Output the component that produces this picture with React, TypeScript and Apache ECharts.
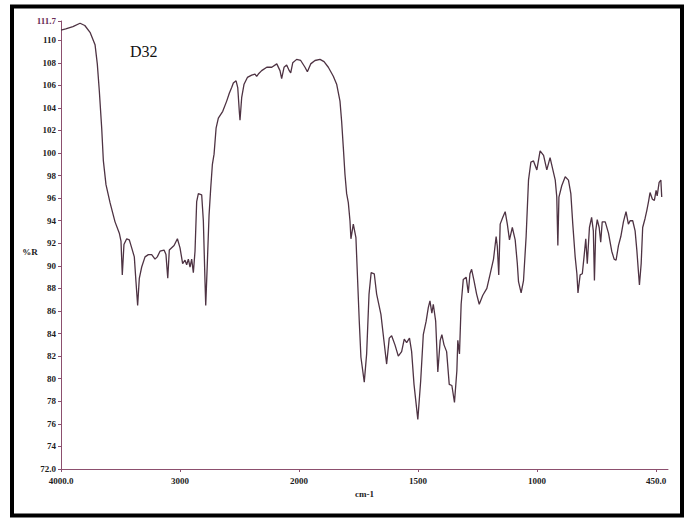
import React, { useEffect, useRef } from "react";
import * as echarts from "echarts";

// Wavenumbers (cm-1) and %R
const wavenumbers = [
  4000, 3960, 3900, 3840, 3800, 3756, 3714, 3695, 3678, 3658, 3644, 3622, 3588, 3546, 3510, 3496, 3485, 3471,
  3448, 3426, 3406, 3384, 3370, 3356, 3342, 3322, 3294, 3266, 3238, 3210, 3191, 3168, 3134, 3118, 3103, 3090,
  3070, 3050, 3022, 3000, 2978, 2958, 2944, 2930, 2916, 2902, 2888, 2874, 2860, 2846, 2818, 2804, 2790, 2784,
  2770, 2756, 2742, 2728, 2714, 2697, 2678, 2641, 2608, 2586, 2566, 2552, 2529, 2515, 2502, 2496, 2482, 2462,
  2434, 2398, 2370, 2356, 2342, 2314, 2271, 2229, 2187, 2160, 2146, 2126, 2104, 2082, 2070, 2053, 2020, 1993,
  1975, 1965, 1951, 1933, 1912, 1895, 1877, 1856, 1842, 1828, 1821, 1814, 1807, 1800, 1793, 1786, 1782, 1772,
  1761, 1755, 1747, 1740, 1726, 1716, 1706, 1697, 1684, 1674, 1656, 1643, 1632, 1621, 1611, 1597, 1583, 1569,
  1558, 1548, 1536, 1527, 1517, 1501, 1489, 1478, 1466, 1457, 1450, 1442, 1436, 1426, 1417, 1407, 1400, 1391,
  1380, 1369, 1358, 1347, 1337, 1333, 1326, 1319, 1310, 1298, 1289, 1282, 1275, 1265, 1254, 1243, 1228, 1211,
  1197, 1183, 1172, 1167, 1161, 1155, 1144, 1134, 1125, 1116, 1104, 1092, 1083, 1078, 1067, 1057, 1046, 1036,
  1026, 1015, 1001, 986, 970, 955, 940, 927, 916, 909, 904, 899, 886, 870, 855, 844, 835, 824, 816, 811, 801,
  791, 783, 775, 768, 758, 748, 740, 735, 729, 722, 713, 706, 699, 685, 670, 655, 644, 635, 624, 613, 601, 589,
  578, 570, 558, 547, 539, 531, 527, 519, 512, 501, 493, 485, 478, 467, 458, 450, 445, 436, 428, 424,
];

const percentR = [
  110.9, 111.0, 111.2, 111.5, 111.3, 110.7, 109.6, 107.9, 105.5, 102.2, 99.3, 97.2, 95.6, 93.9, 92.9, 92.2, 89.2, 91.9,
  92.4, 92.3, 91.6, 90.8, 88.6, 86.5, 88.9, 89.9, 90.8, 91.0, 91.0, 90.6, 90.8, 91.3, 91.4, 91.0, 88.9, 91.4,
  91.6, 91.8, 92.4, 91.6, 90.2, 90.5, 90.1, 90.6, 89.9, 90.6, 89.4, 91.3, 95.7, 96.4, 96.3, 94.0, 88.6, 86.5,
  90.4, 94.5, 96.9, 99.0, 99.9, 102.2, 103.1, 103.7, 104.6, 105.3, 105.8, 106.2, 106.4, 105.8, 103.7, 102.9, 104.9, 106.1,
  106.7, 106.9, 107.0, 106.8, 107.0, 107.3, 107.6, 107.6, 107.9, 107.3, 106.6, 107.6, 107.8, 107.3, 107.1, 108.0, 108.3, 108.2,
  107.6, 107.2, 107.9, 108.2, 108.3, 108.1, 107.6, 106.8, 106.1, 104.6, 102.8, 100.5, 98.1, 96.4, 95.6, 94.0, 92.4, 93.7,
  92.5, 89.3, 85.1, 81.9, 79.7, 82.2, 87.5, 89.4, 89.3, 87.5, 85.7, 83.3, 81.3, 83.6, 83.8, 83.0, 82.0, 82.4,
  83.5, 83.2, 83.6, 82.4, 79.5, 76.4, 79.8, 83.9, 85.1, 86.3, 86.9, 85.8, 86.6, 85.1, 80.6, 83.4, 83.9, 83.0,
  82.4, 79.5, 79.4, 77.9, 80.7, 83.4, 82.2, 86.6, 88.8, 89.0, 87.6, 89.3, 89.7, 88.7, 87.5, 86.6, 87.4, 88.0,
  89.3, 90.6, 92.6, 91.7, 89.2, 93.7, 94.3, 94.8, 93.7, 92.3, 93.4, 92.3, 90.2, 88.6, 87.6, 88.7, 92.6, 97.6,
  99.2, 99.3, 98.5, 100.2, 99.8, 98.5, 99.6, 98.5, 97.6, 96.1, 91.8, 96.1, 97.1, 97.9, 97.6, 96.4, 93.7, 90.8, 89.3, 87.6, 89.2,
  89.3, 90.8, 92.4, 90.2, 93.4, 94.3, 93.1, 88.7, 93.1, 94.1, 93.4, 92.1, 93.9, 93.9, 92.9, 91.3, 90.6, 90.5, 91.8, 92.6, 93.9, 94.8,
  93.7, 94.0, 94.0, 93.1, 91.4, 89.3, 88.3, 90.2, 93.4, 94.2, 94.9, 95.7, 96.5, 95.9, 95.8, 96.7, 96.2, 97.4, 97.6, 96.1,
];

const xTickWavenumbers = [4000, 3000, 2000, 1500, 1000, 450];
const xTickLabels = ["4000.0", "3000", "2000", "1500", "1000", "450.0"];
const yTickValues = [72, 74, 76, 78, 80, 82, 84, 86, 88, 90, 92, 94, 96, 98, 100, 102, 104, 106, 108, 110, 111.7];

// Piecewise (scale-changed) wavenumber axis: 4000-2000, 2000-1000, 1000-450 each evenly spaced per label
function toT(w: number): number {
  if (w >= 2000) return (4000 - w) / 1000;
  if (w >= 1000) return 2 + (2000 - w) / 500;
  return 4 + (1000 - w) / 550;
}

export default function App() {
  const ref = useRef<HTMLDivElement>(null);
  useEffect(() => {
    if (!ref.current) return;
    const chart = echarts.init(ref.current, null, { renderer: "svg" });
    const tickTs = xTickWavenumbers.map(toT);
    const labelFont = {
      fontFamily: "Liberation Serif",
      fontSize: 9,
      fontWeight: "bold" as const,
      color: "#1c1c1c",
    };
    const axisColor = "#8c4f6e";
    chart.setOption({
      animation: false,
      backgroundColor: "#ffffff",
      grid: { left: 61, right: 22, top: 21, bottom: 49, containLabel: false },
      xAxis: {
        type: "value",
        min: 0,
        max: 5.1,
        name: "cm-1",
        nameLocation: "middle",
        nameGap: 20,
        nameTextStyle: { ...labelFont },
        axisLine: { show: true, lineStyle: { color: axisColor, width: 1 } },
        axisTick: { show: true, length: 3, customValues: tickTs, lineStyle: { color: axisColor } },
        axisLabel: {
          ...labelFont,
          margin: 7,
          customValues: tickTs,
          formatter: (v: number) => {
            const i = tickTs.findIndex((t) => Math.abs(t - v) < 1e-6);
            return i >= 0 ? xTickLabels[i] : "";
          },
        },
        splitLine: { show: false },
      },
      yAxis: {
        type: "value",
        min: 72,
        max: 111.7,
        axisLine: { show: true, lineStyle: { color: axisColor, width: 1 } },
        axisTick: { show: true, length: 3, customValues: yTickValues, lineStyle: { color: axisColor } },
        axisLabel: {
          ...labelFont,
          margin: 5,
          customValues: yTickValues,
          formatter: (v: number) => {
            if (Math.abs(v - 72) < 1e-6) return "72.0";
            if (Math.abs(v - 111.7) < 1e-6) return "{top|111.7}";
            return String(Math.round(v));
          },
          rich: { top: { ...labelFont, color: "#6a2c55" } },
        },
        splitLine: { show: false },
      },
      graphic: [
        {
          type: "rect",
          shape: { x: 12, y: 6.5, width: 670, height: 509 },
          style: { fill: "none", stroke: "#000000", lineWidth: 4 },
          silent: true,
        },
        {
          type: "text",
          x: 130,
          y: 51,
          style: {
            text: "D32",
            fontFamily: "Liberation Serif",
            fontSize: 16,
            fill: "#111111",
            textAlign: "left",
            textVerticalAlign: "middle",
          },
        },
        {
          type: "text",
          x: 30,
          y: 252,
          style: {
            text: "%R",
            fontFamily: "Liberation Serif",
            fontSize: 9,
            fontWeight: "bold",
            fill: "#1c1c1c",
            textAlign: "center",
            textVerticalAlign: "middle",
          },
        },
      ],
      series: [
        {
          type: "line",
          data: wavenumbers.map((w, i) => [toT(w), percentR[i]]),
          showSymbol: false,
          smooth: false,
          lineStyle: { color: "#4e3343", width: 1.3 },
          silent: true,
        },
      ],
    });
    return () => chart.dispose();
  }, []);
  return (
    <div
      ref={ref}
      style={{ position: "absolute", left: 0, top: 0, width: 690, height: 518, background: "#fff" }}
    />
  );
}
